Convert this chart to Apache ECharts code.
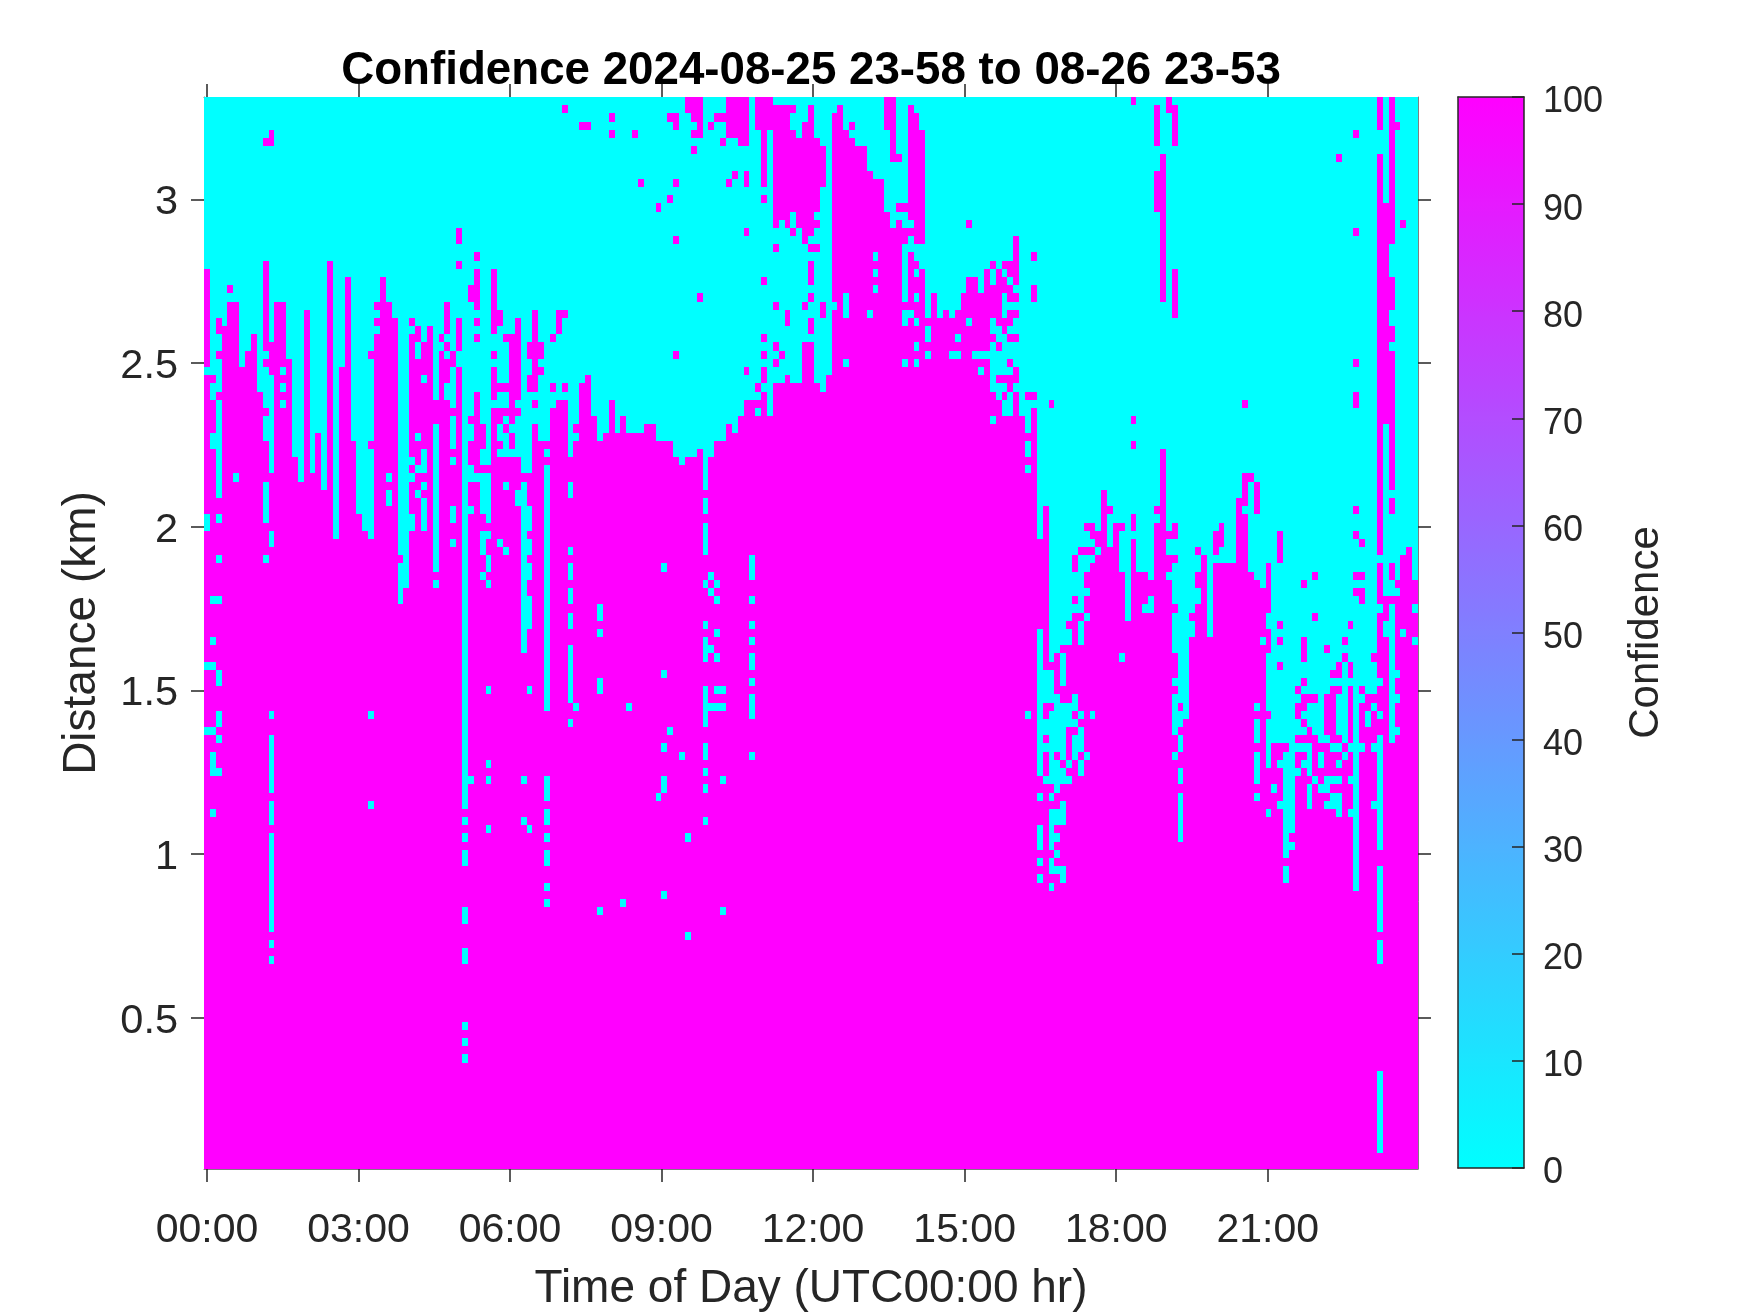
<!DOCTYPE html>
<html><head><meta charset="utf-8">
<style>html,body{margin:0;padding:0;background:#fff}#c{width:1750px;height:1313px}</style>
<script src="https://cdn.jsdelivr.net/npm/echarts@6/dist/echarts.min.js"></script>
</head><body><div id="c"></div>
<script>
const titleText = 'Confidence 2024-08-25 23-58 to 08-26 23-53';
const xName = 'Time of Day (UTC00:00 hr)', yName = 'Distance (km)', barName = 'Confidence';
const timeTicks = [0,180,360,540,720,900,1080,1260];
const distTicks = [0.5,1,1.5,2,2.5,3];
// Column spacing (min) and gate spacing (km); the top gate is 3.3 km.
const stepMin = 1435/206, stepKm = 0.025, topKm = 3.3, rowCount = 131;
// Per time column: rows (0 = top gate) where confidence is 0; all other rows are 100.
const cyanRunsA = ["0-20,33,51-52,69,77","0-33,35-36,41-42,61,66,69,77,80-82,87","0-26,29-30,32-35,37-48,51,56,61,70-71,75-76,78,82","0-27","0-22,24","0-24,46","0-32","0-30","0-28","0-35","0-4,6-19,31,33-37,39-41,47-51,56","0-3,6-29,34-45,53-54,75,78-84,86-88,90-101,103,105","0-24","0-24,33,35,37","0-31","0-43","0-46","0-25","0-45","0-40","0-47","0-19","0-53","0-32","0-21","0-41","0-50","0-52","0-30,32-41,43-53,75,86","0-24,26,28","0-21","0-24,46,48-49","0-26","0-55,57-61","0-59","0-26,28,44,46,51-52","0-27,30-31,41,45,48","0-29,34,43-45,47,49-52","0-27","0-36,40-57,59","0-28,30","0-24,29,31,35-36","0-30,33-37,39-42,44,50-51,54","0-15,18-19,21-26,31-32","0-86,88,90,92-93,99-100,104-105,113,115,117","0-22,25-38,40-41,45-46,50,83","0-18,20,26,28,30-35,46","0-39,43-44,46-50,53-55,58","0-44,46-51,53,56-57,59,72,81,83,89","0-20,29-30,32,37","0-25,28-34,36-37,40-41,43,54","0-28,30-34,36-37,39,41-43,47,55"];
const cyanRunsB = ["0-28,40,43","0-26,37,39-43,48-49","0-45,47-67,83,88","0-29,32-33,36-45,50-52,54-55,57-58,61-64,72,89","0-25,36,38-39","0-29,32,34-41","0-41,43,45-74,83-85,87-88,90,92-93,96,98","0-28,30-34,36-37","0-25,29-36","0,2-25,27-34,36","0-43,47-48,55,57-58,60-61,63-64,67-73,76","0-39,41,74","0-2,4-34","0-2,4-33","0-38","0-41,62-63,65,71-72,99","0-40","0-1,3,5-36","0-40","0-38,98","0-40,74","0-3,5-40","0-9,11-40","0-39","0-39","0-12,14-41,85","0-41,57,70,79,83-84,97","0-1,3-11,13-41,77","0-1,4-9,11-16,18-30,32-43","0-44,80","2-43,90,102","3,5,7-43","5-23,25-42","0-47,49-50,52-55,59,64,66-68,72-76,79-80,82,84,88","0-2,4-43,58,60,67,74","0-1,3-41,59,61,65,68,72,74","0-1,3-4,6-41,72,74,83,99","5-9,11-39","5-8,10-40","6-38","6-8,11-15,17-32,34-36","0-36,56-58,61,64,66,68-69,71,73-75,80","4-34,36,38","11,13-21,23-28,30,32,35","4-38","0,16-17,19-24,26-29,31,33-34","0,15-30,32-34","0,16-25,28-33","0,2-3,14-15,17-34","0-4,16-34","0-2,18-24,26-29","0,17,19,23,25-26,29"];
const cyanRunsC = ["0-4,14,16-17,19-34","0-5,11-24,27-35","0-33","0-1,25","0","0-3,24-26,32","0-2,4","0-5","0-5","0-8,26","0-9,19,21,23","0-9","4-13","8-15","0-6,8-12,14","0-12,14-15,18-24,26-27,32","0,15,17-18,26","0-1,18-19,21,24,27,30,32","0-3,18-20","0-26,28-29,31","0-23","0-26","0-25","0-26,31","0-25,29,31","0-23","0-14,16-21,27","0-21,31","0-23,31,33","0-20,31","0-19,21-22,27-28,30-35,39","0-20,28-29,31-33,35-36","0-19,21,24-26,29-33,35,37-38","0-19,22,25,28,30-31,33,36-38","0-16,23,25,27-28,30-32,35","0-38","0-35,37-40,42-43,45,75","0-18,20-22,25-35,37","0-53,65-82,85,89-91,93,95","0-49,70-73,76-77,79,83","0-36,38-68,70-73,75-83,85,87-91,93-94,96","0-67,73-79,81-84,87-88,90,92,94","0-66,68-71,74-80,82-83,86-88,94-95","0-63,65-66,74-76,81,83","0-55,58-60,62,73-74,76,78-80","0-54,56-62,64-66,75,77-79,81-82","0-51,53-54,56-57,60,63,80","0-51,54,56,75","0-52,55","0-47","0-49,51-54","0-51"];
const cyanRunsD = ["0-51,53-57,68","0-63","1-38,40-41,43-50,53","0-57","0-57,62","0-58,61-62","0,6-8,14-49,51","0-6,25-42","2-52,54-55,58","0,6-20,27-51,54-55,57-61,63-67,71,73-77,80","0-73,75-76,78-79,82-83,85-90","0-75","0-62,64-65","0-54,56-57,60-61","0-55","0-65","0-52,56","0-51,55-56","0-56","0-56","0-48","0-36,38-45,50","0-45,47-57","0-46,51-58,74,76-78,80-83,85","0-59,66","0-56,63-64,68-74,76-81,87","0-78,84","0-52,57-63,65,67-68,70-78,81,86","0-78,80-92,94-95","0-89,91","0-71,73,76-77,79,82","0-58,60-65,69-70,72,75,77,79,81","0-72,74-76,79-82,84-86","0-57,59-62,64-72,74-77,83","0-78,80-81,84","0-66,68-72,78,83-84,86","0-69,71,79,83,85-86","0-6,8-68,71,73-77,79,81,83,85-87","0-65,67,69-78,80","0-63,65-68,71,79,83,87","0-3,5-15,17-31,33-35,38-49,51-52,54-57,59,61-96","0-53,55-57,59,62-71,73,79","0-72,75-76","0-67,69-72,74,79,86","4-6,56,62,71,75,78-91,94-101,103-105,119-128","0-12,40-60,64-65","18-21,26-27,30,48,51-56,59-60,62-78","0-2,4-58,60,70,73,77","0-14,16-55,65","0-54","0-58,62,66"];

const cyanRuns = [...cyanRunsA, ...cyanRunsB, ...cyanRunsC, ...cyanRunsD];
function expandRuns(s){
  const out = new Set();
  s.split(',').forEach(p=>{const [a,b]=p.split('-').map(Number);for(let r=a;r<=(b===undefined?a:b);r++)out.add(r);});
  return out;
}
const cells = [];
cyanRuns.forEach((s,c)=>{
  const low = expandRuns(s);
  for(let r=0;r<rowCount;r++) cells.push([c*stepMin, topKm-r*stepKm, low.has(r)?0:100]);
});

const FONT = 'Liberation Sans', INK = '#262626';
const xMin = -stepMin/2, xMax = (cyanRuns.length-0.5)*stepMin;
const yMin = topKm-(rowCount-0.5)*stepKm, yMax = topKm+stepKm/2;
const hhmm = m => String(Math.floor(m/60)).padStart(2,'0')+':'+String(m%60).padStart(2,'0');
const tick = {length:13,lineStyle:{color:INK,width:1.5}};
const frame = {show:true,onZero:false,lineStyle:{color:'#7f7f7f',width:1}};
const barLine = {show:true,onZero:false,lineStyle:{color:INK,width:1.5}};
const plotGrid = {left:204,top:97,width:1214,height:1072,outerBoundsMode:'none'};
const barGrid = {left:1458,top:97,width:66,height:1071,outerBoundsMode:'none'};

const chart = echarts.init(document.getElementById('c'),null,{renderer:'canvas'});
chart.setOption({
  animation:false,
  backgroundColor:'#fff',
  title:{text:titleText,left:806,top:43,textAlign:'center',textStyle:{fontFamily:FONT,fontWeight:'bold',fontSize:45.7,color:'#000'}},
  grid:[plotGrid,barGrid],
  visualMap:{type:'continuous',min:0,max:100,seriesIndex:0,dimension:2,show:true,calculable:false,hoverLink:false,realtime:false,
    left:barGrid.left,top:barGrid.top,itemWidth:barGrid.width,itemHeight:barGrid.height,padding:0,text:null,
    inRange:{color:['#00ffff','#ff00ff']},textStyle:{fontSize:0,color:'transparent'}},
  xAxis:[
    {type:'value',gridIndex:0,min:xMin,max:xMax,position:'bottom',splitLine:{show:false},axisLine:frame,
     axisTick:{...tick,customValues:timeTicks},
     axisLabel:{customValues:timeTicks,formatter:hhmm,fontFamily:FONT,fontSize:41,color:INK,margin:41},
     name:xName,nameLocation:'middle',nameGap:97,nameTextStyle:{fontFamily:FONT,fontSize:46,color:INK}},
    {type:'value',gridIndex:0,min:xMin,max:xMax,position:'top',splitLine:{show:false},axisLine:frame,
     axisTick:{...tick,customValues:timeTicks},axisLabel:{show:false}},
    {type:'value',gridIndex:1,min:0,max:1,position:'bottom',z:10,splitLine:{show:false},axisTick:{show:false},axisLabel:{show:false},axisLine:barLine},
    {type:'value',gridIndex:1,min:0,max:1,position:'top',z:10,splitLine:{show:false},axisTick:{show:false},axisLabel:{show:false},axisLine:barLine}
  ],
  yAxis:[
    {type:'value',gridIndex:0,min:yMin,max:yMax,position:'left',splitLine:{show:false},axisLine:frame,
     axisTick:{...tick,customValues:distTicks},
     axisLabel:{customValues:distTicks,fontFamily:FONT,fontSize:41.5,color:INK,margin:26,verticalAlign:'top',lineHeight:7},
     name:yName,nameLocation:'middle',nameGap:99,nameRotate:90,nameTextStyle:{fontFamily:FONT,fontSize:46,color:INK}},
    {type:'value',gridIndex:0,min:yMin,max:yMax,position:'right',splitLine:{show:false},axisLine:frame,
     axisTick:{...tick,customValues:distTicks},axisLabel:{show:false}},
    {type:'value',gridIndex:1,min:0,max:100,interval:10,position:'right',z:10,splitLine:{show:false},
     axisLine:barLine,
     axisTick:{inside:true,length:12,lineStyle:{color:INK,width:1.5}},
     axisLabel:{fontFamily:FONT,fontSize:36,color:INK,margin:19,showMinLabel:true,showMaxLabel:true,verticalAlign:'top',lineHeight:11},
     name:barName,nameLocation:'middle',nameGap:101,nameRotate:90,nameTextStyle:{fontFamily:FONT,fontSize:42,color:INK}},
    {type:'value',gridIndex:1,min:0,max:100,interval:100,position:'left',z:10,splitLine:{show:false},axisTick:{show:false},axisLabel:{show:false},
     axisLine:barLine}
  ],
  series:[{
    type:'custom',xAxisIndex:0,yAxisIndex:0,coordinateSystem:'cartesian2d',data:cells,silent:true,progressive:0,
    clip:true,encode:{x:0,y:1},
    renderItem(params,api){
      const a = api.coord([api.value(0)-stepMin/2, api.value(1)+stepKm/2]);
      const b = api.coord([api.value(0)+stepMin/2, api.value(1)-stepKm/2]);
      const x = Math.round(a[0]), y = Math.round(a[1]);
      return {type:'rect',shape:{x,y,width:Math.round(b[0])-x,height:Math.round(b[1])-y},style:{fill:api.visual('color')}};
    }
  }]
});
</script></body></html>
